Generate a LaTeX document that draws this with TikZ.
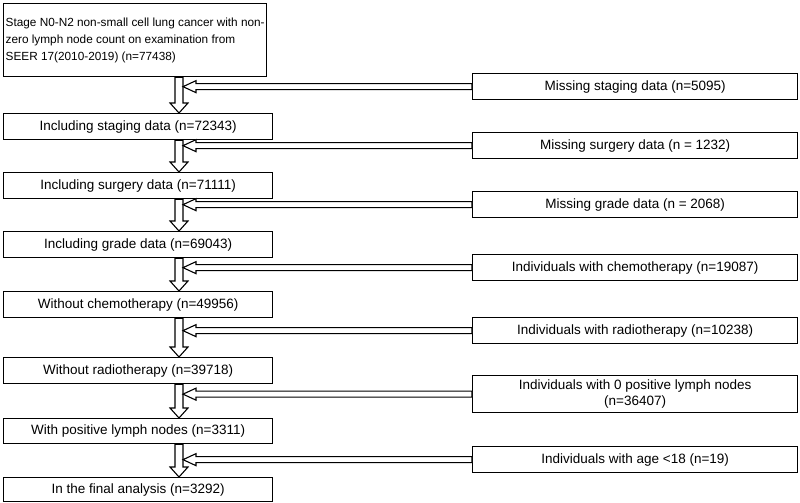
\documentclass[tikz,border=0pt]{standalone}
\usepackage{fontspec}
\setmainfont{Liberation Sans}
\usetikzlibrary{calc}
\begin{document}
\begin{tikzpicture}[x=1pt,y=-1pt,
 lb/.style={draw,line width=1.3pt,minimum width=269pt,anchor=north west,align=left,inner sep=3pt,font=\fontsize{13.5}{16}\selectfont},
 rb/.style={draw,line width=1.3pt,minimum width=325pt,anchor=north west,align=center,inner sep=2pt,font=\fontsize{13.5}{16}\selectfont},
 ar/.style={draw,line width=1.1pt,fill=white}]
\useasboundingbox (0,0) rectangle (800,503);
\newcommand\mkl[4]{\node[lb,minimum height=#3pt] (#1) at (3,#2) {#4};}
\newcommand\mkr[4]{\node[rb,minimum height=#3pt] (#1) at (472,#2) {#4};}
\node[lb,minimum height=73pt,minimum width=263pt,inner sep=2pt,font=\fontsize{11.8}{17}\selectfont] (l1) at (3,3) {Stage N0-N2 non-small cell lung cancer with non-\\zero lymph node count on examination from\\SEER 17(2010-2019) (n=77438)};
\mkl{l2}{113}{26}{Including staging data (n=72343)}
\mkl{l3}{172}{26}{Including surgery data (n=71111)}
\mkl{l4}{231}{26}{Including grade data (n=69043)}
\mkl{l5}{291}{26}{Without chemotherapy (n=49956)}
\mkl{l6}{357}{26}{Without radiotherapy (n=39718)}
\mkl{l7}{418}{25}{With positive lymph nodes (n=3311)}
\mkl{l8}{477}{24}{In the final analysis (n=3292)}
\mkr{r1}{73}{26}{Missing staging data (n=5095)}
\mkr{r2}{132}{26}{Missing surgery data (n = 1232)}
\mkr{r3}{191}{26}{Missing grade data (n = 2068)}
\mkr{r4}{254}{26}{Individuals with chemotherapy (n=19087)}
\mkr{r5}{317}{26}{Individuals with radiotherapy (n=10238)}
\node[rb,minimum height=37pt] (r6) at (472,375) {Individuals with 0 positive lymph nodes\\(n=36407)};
\mkr{r7}{446}{26}{Individuals with age <18 (n=19)}
\foreach \a/\b in {l1/l2,l2/l3,l3/l4,l4/l5,l5/l6,l6/l7,l7/l8}{
 \path let \p1=(\a.south), \p2=(\b.north) in
 [ar] (175,\y1) -- (175,\y2+10) -- (170,\y2+10) -- (179,\y2) -- (188,\y2+10) -- (183,\y2+10) -- (183,\y1) -- cycle;}
\foreach \r in {r1,r2,r3,r4,r5,r6,r7}{
 \path let \p1=(\r.west) in
 [ar] (\x1,\y1-3) -- (196,\y1-3) -- (196,\y1-6) -- (183,\y1) -- (196,\y1+6) -- (196,\y1+3) -- (\x1,\y1+3) -- cycle;}
\end{tikzpicture}
\end{document}
